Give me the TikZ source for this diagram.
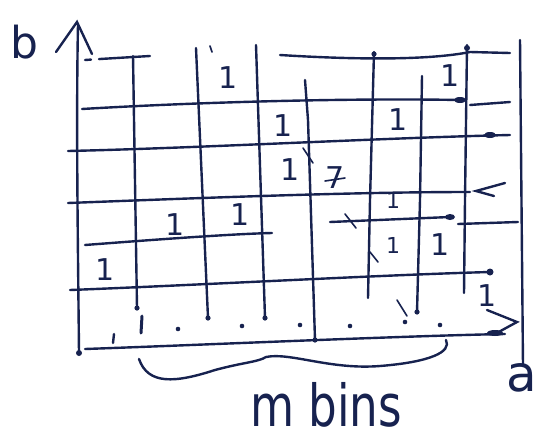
\documentclass[tikz,border=0pt]{standalone}
\usepackage{fontspec}
\setmainfont{DejaVu Sans}
\begin{document}
\begin{tikzpicture}[x=1pt,y=-1pt,
  ink/.style={draw=inkc,line width=2.4pt,line cap=round},
  thin ink/.style={draw=inkc,line width=1.6pt,line cap=round},
  one/.style={text=inkc,font=\fontsize{30}{30}\selectfont,inner sep=0pt},
  small one/.style={text=inkc,font=\fontsize{22}{22}\selectfont,inner sep=0pt},
  lbl/.style={text=inkc,inner sep=0pt}]
\definecolor{inkc}{HTML}{17224F}
\useasboundingbox (0,0) rectangle (540,442);
% axes
\draw[ink] (79,353) .. controls (78,250) and (76,120) .. (78,25);
\draw[ink] (56,52) -- (77,22) -- (92,54);
\fill[inkc] (79,353) circle (3pt);
\draw[ink] (85,349) .. controls (200,345) and (400,336) .. (505,334);
\draw[ink] (487,310) -- (517,322) -- (495,334);
\fill[inkc] (495,333) ellipse (8pt and 3pt);
\draw[ink] (520,40) -- (523,366);
% vertical grid lines
\draw[ink] (133,56) -- (137,308);
\draw[ink] (196,48) -- (208,318);
\draw[ink] (256,45) -- (265,318);
\draw[ink] (305,80) -- (308,120) -- (315,340);
\draw[ink] (374,52) -- (370,200) -- (368,298);
\draw[ink] (422,76) -- (420,200) -- (417,312);
\draw[ink] (467,45) -- (465,200) -- (464,293);
\foreach \p in {(137,308),(208,318),(265,318),(315,340),(417,312),(374,54)}
  \fill[inkc] \p circle (2.6pt);
% horizontal grid lines
\draw[ink,dash pattern=on 6pt off 8pt] (85,60) -- (100,59);
\draw[ink] (100,59) -- (150,56);
\draw[ink] (280,55) .. controls (360,60) and (430,60) .. (470,52) -- (510,53);
\fill[inkc] (467,48) circle (3pt);
\draw[ink] (82,109) .. controls (200,102) and (350,98) .. (460,100);
\fill[inkc] (460,100) ellipse (6pt and 3pt);
\draw[ink] (470,105) -- (510,102);
\draw[ink] (68,151) .. controls (200,148) and (380,138) .. (510,135);
\fill[inkc] (490,135) ellipse (6pt and 3pt);
\draw[ink] (68,203) .. controls (200,198) and (350,192) .. (470,192);
\draw[ink] (505,183) -- (476,191) -- (494,196);
\draw[ink] (85,245) .. controls (150,240) and (230,234) .. (272,233);
\draw[ink] (330,222) -- (450,217);
\fill[inkc] (450,217) ellipse (5pt and 3pt);
\draw[ink] (458,224) -- (518,222);
\draw[ink] (70,290) .. controls (200,285) and (380,275) .. (490,272);
\fill[inkc] (490,272) circle (3.5pt);
% stray strokes
\draw[thin ink] (303,148) -- (313,163);
\draw[thin ink] (345,214) -- (356,228);
\draw[thin ink] (370,252) -- (378,262);
\draw[thin ink] (397,300) -- (407,316);
\draw[thin ink] (210,46) -- (212,52);
% ticks on bottom axis
\draw[ink] (113,343) -- (114,334);
\draw[ink,line width=3pt] (141,333) -- (142,316);
\foreach \p in {(178,329),(242,326),(300,325),(350,326),(405,322),(440,325)}
  \fill[inkc] \p circle (2.3pt);
% brace
\draw[ink] (139,359) .. controls (148,385) and (175,383) .. (215,370)
  .. controls (245,362) and (258,362) .. (266,357)
  .. controls (290,352) and (330,370) .. (380,366)
  .. controls (430,362) and (452,352) .. (446,340);
% ones
\node[one] at (228,78) {1};
\node[one] at (450,76) {1};
\node[one] at (283,126) {1};
\node[one] at (398,120) {1};
\node[one] at (290,170) {1};
\node[one] at (335,178) {7};
\draw[thin ink] (325,181) -- (345,178);
\node[one] at (175,225) {1};
\node[one] at (240,215) {1};
\node[small one] at (393,200) {1};
\node[small one] at (393,245) {1};
\node[one] at (440,245) {1};
\node[one] at (105,270) {1};
\node[one] at (487,296) {1};
% axis labels
\node[lbl,font=\fontsize{44}{44}\selectfont] at (24,42) {b};
\node[lbl,font=\fontsize{50}{50}\selectfont] at (522,378) {a};
\node[lbl,font=\fontsize{58}{58}\selectfont] at (326,405) {\scalebox{0.78}[1]{m bins}};
\end{tikzpicture}
\end{document}
